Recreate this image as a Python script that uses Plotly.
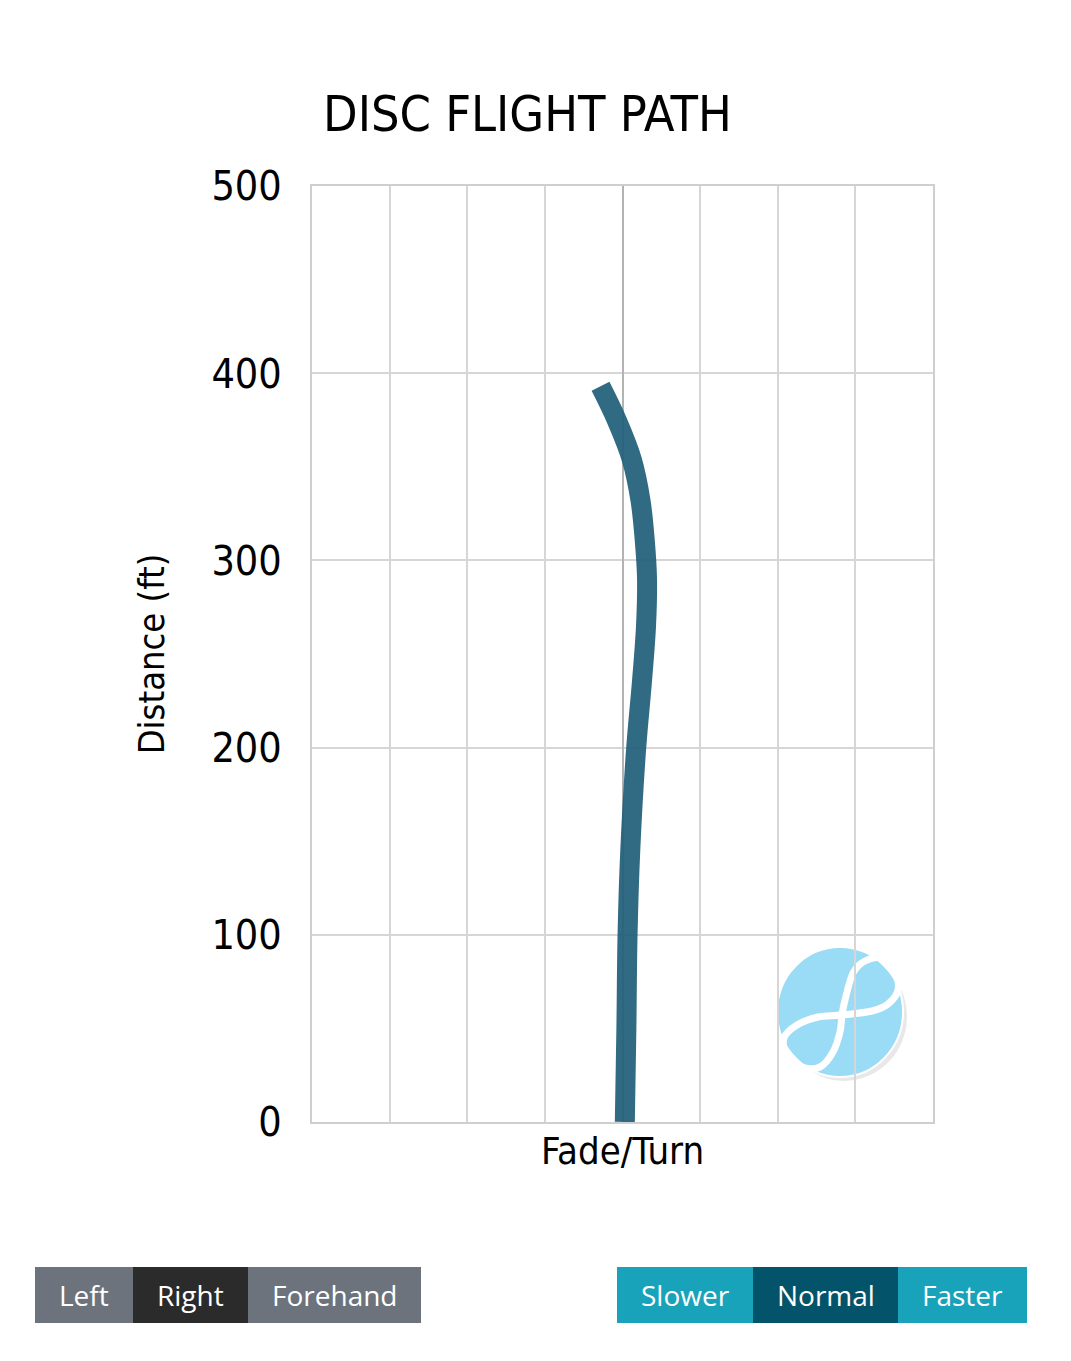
import plotly.graph_objects as go

# ==========================================
# Data
# ==========================================

distance_ft = [0, 50, 100, 145, 199, 235, 265, 290, 310, 332, 354, 375, 393]
fade_turn = [0.03, 0.05, 0.065, 0.10, 0.175, 0.25, 0.303, 0.316, 0.288, 0.232, 0.119, -0.075, -0.283]

y_ticks = [0, 100, 200, 300, 400, 500]
x_ticks = [-4, -3, -2, -1, 0, 1, 2, 3, 4]

throw_buttons = ["Left", "Right", "Forehand"]
speed_buttons = ["Slower", "Normal", "Faster"]

# logo curve, screen pixels
logo_px = [(842, 1015), (845, 1000), (853, 973), (865, 961), (882, 958), (895, 970),
           (898, 990), (888, 1004), (872, 1011), (842, 1015), (818, 1017), (797, 1025),
           (784, 1038), (787, 1055), (802, 1067), (820, 1067), (833, 1052), (840, 1032),
           (842, 1015), (845, 1000)]

# ==========================================
# Layout helpers (screen px -> figure coords, page has 8px body margin)
# ==========================================

OFF = 8
W, H = 1071 - 2 * OFF, 1361 - 2 * OFF
L, R, T, B = 312, 933, 186, 1122
COND = "DejaVu Sans Condensed, DejaVu Sans, sans-serif"
UI = "Open Sans, Noto Sans, sans-serif"


def px_x(p):
    return (p - L) / (R - L)


def px_y(p):
    return (B - p) / (B - T)


def dx(p):
    return -4 + 8 * (p - L) / (R - L)


def dy(p):
    return 500 * (B - p) / (B - T)


def logo_path(pts):
    # catmull-rom through the hand-read points, as cubic beziers
    d = "M %.4f,%.4f" % (dx(pts[0][0]), dy(pts[0][1]))
    for i in range(len(pts) - 2):
        p0 = pts[max(i - 1, 0)]
        p1, p2, p3 = pts[i], pts[i + 1], pts[i + 2]
        c1 = (p1[0] + (p2[0] - p0[0]) / 6, p1[1] + (p2[1] - p0[1]) / 6)
        c2 = (p2[0] - (p3[0] - p1[0]) / 6, p2[1] - (p3[1] - p1[1]) / 6)
        d += " C %.4f,%.4f %.4f,%.4f %.4f,%.4f" % (
            dx(c1[0]), dy(c1[1]), dx(c2[0]), dy(c2[1]), dx(p2[0]), dy(p2[1]))
    return d


fig = go.Figure()

fig.add_trace(go.Scatter(
    x=fade_turn, y=distance_ft, mode="lines",
    line=dict(color="#22607a", width=20, shape="spline", smoothing=1.0),
    opacity=0.93, hoverinfo="skip", showlegend=False,
))

shapes = [
    dict(type="circle", xref="x", yref="y",
         x0=dx(781), x1=dx(907), y0=dy(1081), y1=dy(952),
         fillcolor="rgba(0,0,0,0.09)", line=dict(width=0), layer="below"),
    dict(type="circle", xref="x", yref="y",
         x0=dx(777), x1=dx(903), y0=dy(1077), y1=dy(947),
         fillcolor="#9adcf5", line=dict(color="white", width=2), layer="below"),
    dict(type="path", xref="x", yref="y", path=logo_path(logo_px),
         line=dict(color="white", width=7), layer="below"),
]

annotations = []

# buttons
btn_y0, btn_y1 = 1267, 1323
left_edges = [35, 133, 248, 421]
left_cols = ["#6c737c", "#2b2b2b", "#6c737c"]
right_edges = [617, 753, 898, 1027]
right_cols = ["#19a3bb", "#03546a", "#19a3bb"]

for labels, edges, cols in [(throw_buttons, left_edges, left_cols),
                            (speed_buttons, right_edges, right_cols)]:
    for i, lab in enumerate(labels):
        shapes.append(dict(
            type="rect", xref="paper", yref="paper",
            x0=px_x(edges[i]), x1=px_x(edges[i + 1]),
            y0=px_y(btn_y1), y1=px_y(btn_y0),
            fillcolor=cols[i], line=dict(width=0),
        ))
        annotations.append(dict(
            xref="paper", yref="paper",
            x=px_x((edges[i] + edges[i + 1]) / 2), y=px_y((btn_y0 + btn_y1) / 2),
            text=lab, showarrow=False, xanchor="center", yanchor="middle",
            font=dict(family=UI, size=28, color="white"),
        ))

annotations.append(dict(
    xref="paper", yref="paper", x=px_x(527), y=px_y(114),
    text="DISC FLIGHT PATH", showarrow=False, xanchor="center", yanchor="middle",
    font=dict(family=COND, size=50, color="black"),
))

fig.update_layout(
    width=W, height=H,
    margin=dict(l=L - OFF, r=W - (R - OFF), t=T - OFF, b=H - (B - OFF), pad=0),
    plot_bgcolor="white", paper_bgcolor="white",
    shapes=shapes, annotations=annotations,
    showlegend=False,
    xaxis=dict(
        range=[-4, 4], tickvals=x_ticks, showticklabels=False,
        showgrid=True, gridcolor="#d6d6d6", gridwidth=2,
        zeroline=True, zerolinecolor="#b3b3b3", zerolinewidth=2,
        showline=True, linecolor="#cfcfcf", linewidth=2, mirror=True,
        title=dict(text="Fade/Turn", font=dict(family=COND, size=38, color="black"), standoff=14),
        fixedrange=True,
    ),
    yaxis=dict(
        range=[0, 500], tickvals=y_ticks,
        tickfont=dict(family=COND, size=41, color="black"),
        ticklabelstandoff=20,
        showgrid=True, gridcolor="#d6d6d6", gridwidth=2,
        zeroline=False,
        showline=True, linecolor="#cfcfcf", linewidth=2, mirror=True,
        title=dict(text="Distance (ft)", font=dict(family=COND, size=36, color="black"), standoff=36),
        fixedrange=True,
    ),
)

fig.write_html("out.html")
